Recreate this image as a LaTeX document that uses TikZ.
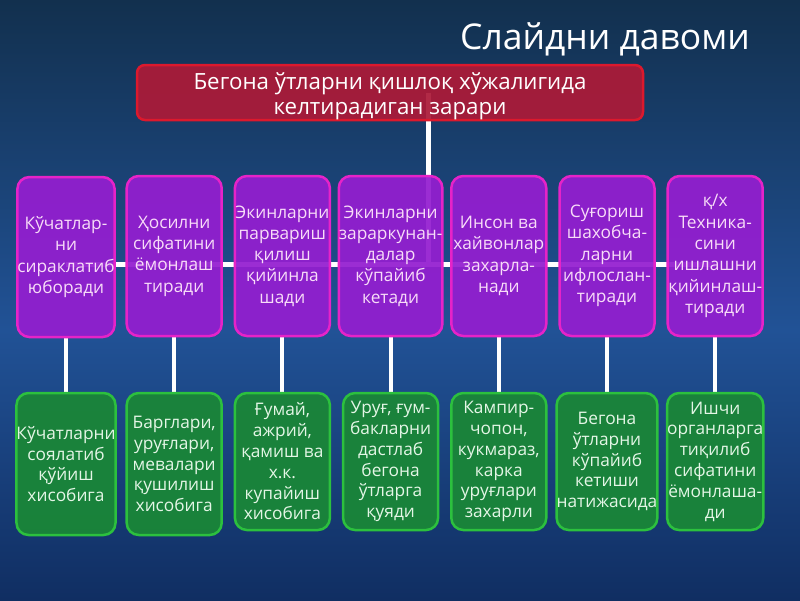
\documentclass[tikz,border=0pt]{standalone}
\usepackage{fontspec}
\setmainfont{Open Sans}
\usetikzlibrary{calc}
\pgfdeclarelayer{bg}
\pgfdeclarelayer{lines}
\pgfsetlayers{bg,lines,main}
\definecolor{bgtop}{RGB}{18,48,78}
\definecolor{bgmid}{RGB}{33,82,150}
\definecolor{bgbot}{RGB}{16,46,98}
\definecolor{redfill}{RGB}{172,26,56}
\definecolor{redline}{RGB}{220,25,45}
\definecolor{purfill}{RGB}{148,30,208}
\definecolor{purline}{RGB}{230,35,200}
\definecolor{purtext}{RGB}{248,220,248}
\definecolor{grnfill}{RGB}{26,134,56}
\definecolor{grnline}{RGB}{44,192,62}
\definecolor{grntext}{RGB}{228,246,230}
\tikzset{
  pbox/.style={draw=purline, line width=2.5pt, fill=purfill, fill opacity=0.93, text opacity=1,
    rounded corners=12pt, minimum width=95pt, minimum height=160pt, inner sep=0pt,
    text=purtext, align=center, font=\fontsize{17.3}{21.3}\selectfont},
  gbox/.style={draw=grnline, line width=2.5pt, fill=grnfill, fill opacity=0.95, text opacity=1,
    rounded corners=12pt, minimum width=95pt, minimum height=137pt, inner sep=0pt,
    text=grntext, align=center, font=\fontsize{17.3}{20.8}\selectfont},
  rbox/.style={draw=redline, line width=2.5pt, fill=redfill, fill opacity=0.93,
    rounded corners=8pt, minimum width=506pt, minimum height=55pt, inner sep=0pt},
  rtext/.style={text=white, align=center, inner sep=0pt, font=\fontsize{22.3}{25}\selectfont},
  wline/.style={draw=white, line width=5pt},
  cline/.style={draw=white, line width=4pt}
}
\begin{document}
\begin{tikzpicture}[x=1pt,y=-1pt]
\begin{pgfonlayer}{bg}
\shade[top color=bgtop, bottom color=bgmid] (0,0) rectangle (800,330);
\shade[top color=bgmid, bottom color=bgbot] (0,330) rectangle (800,600);
\end{pgfonlayer}
\useasboundingbox (0,0) rectangle (800,600);

\node[text=white, font=\fontsize{35.5}{40}\selectfont] (title) at (605,39) {Слайдни давоми};

\node[rbox] (red) at (390,92.5) {};
\node[rtext] (redtext) at (390,96) {Бегона ўтларни қишлоқ хўжалигида\\келтирадиган зарари};

\node[pbox, yshift=-1pt] (p1) at (66,256) {Кўчатлар-\\ни\\сираклатиб\\юборади};
\node[pbox] (p2) at (174.2,256) {Ҳосилни\\сифатини\\ёмонлаш\\тиради};
\node[pbox] (p3) at (282.4,256) {Экинларни\\парвариш\\қилиш\\қийинла\\шади};
\node[pbox] (p4) at (390.6,256) {Экинларни\\зараркунан-\\далар\\кўпайиб\\кетади};
\node[pbox] (p5) at (498.8,256) {Инсон ва\\хайвонлар\\захарла-\\нади};
\node[pbox] (p6) at (607,256) {Суғориш\\шахобча-\\ларни\\ифлослан-\\тиради};
\node[pbox] (p7) at (715.2,256) {қ/х\\Техника-\\сини\\ишлашни\\қийинлаш-\\тиради};

\node[gbox, minimum height=142pt] (g1) at (66,464) {Кўчатларни\\соялатиб\\қўйиш\\хисобига};
\node[gbox, minimum height=142pt] (g2) at (174.2,464) {Барглари,\\уруғлари,\\мевалари\\қушилиш\\хисобига};
\node[gbox] (g3) at (282.4,461.5) {Ғумай,\\ажрий,\\қамиш ва\\х.к.\\купайиш\\хисобига};
\node[gbox] (g4) at (390.6,461.5) {Уруғ, ғум-\\бакларни\\дастлаб\\бегона\\ўтларга\\қуяди};
\node[gbox] (g5) at (498.8,461.5) {Кампир-\\чопон,\\кукмараз,\\карка\\уруғлари\\захарли};
\node[gbox] (g6) at (607,461.5) {Бегона\\ўтларни\\кўпайиб\\кетиши\\натижасида};
\node[gbox] (g7) at (715.2,461.5) {Ишчи\\органларга\\тиқилиб\\сифатини\\ёмонлаша-\\ди};

\coordinate (j) at (428,264);
\begin{pgfonlayer}{lines}
\draw[wline] (red.center -| j) -- (j);
\draw[wline] (p1.center |- j) -- (p7.center |- j);
\foreach \i in {1,...,7}{
  \draw[cline] (p\i.south) -- (g\i.north);
}
\end{pgfonlayer}
\end{tikzpicture}
\end{document}
